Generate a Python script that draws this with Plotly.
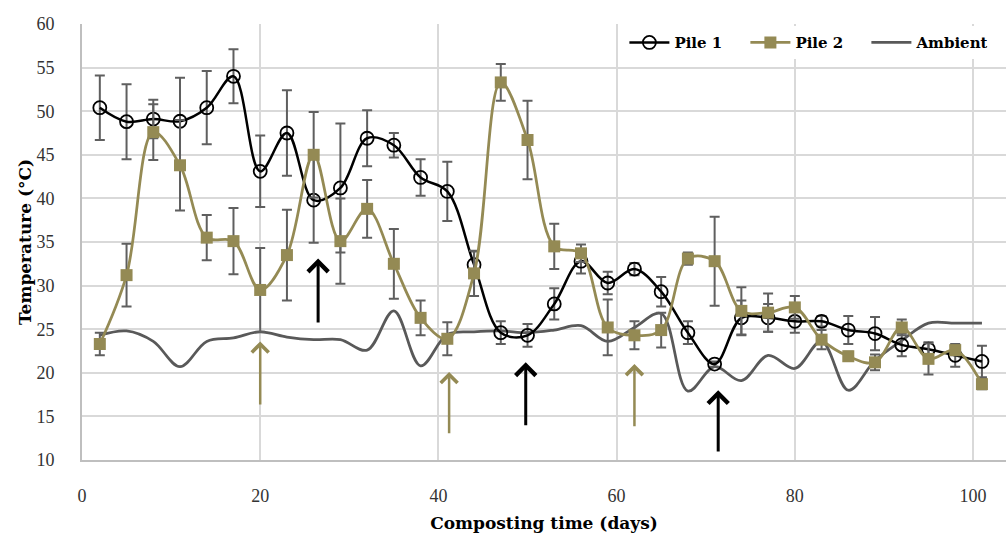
import plotly.graph_objects as go

# ---------------- data ----------------
days = [2, 5, 8, 11, 14, 17, 20, 23, 26, 29, 32, 35, 38, 41, 44, 47, 50,
        53, 56, 59, 62, 65, 68, 71, 74, 77, 80, 83, 86, 89, 92, 95, 98, 101]

pile1 = [50.4, 48.8, 49.1, 48.85, 50.4, 54.0, 43.1, 47.5, 39.8, 41.2, 46.9, 46.1,
         42.4, 40.8, 32.4, 24.6, 24.3, 27.9, 32.8, 30.3, 31.9, 29.3, 24.6, 21.0,
         26.3, 26.3, 25.9, 25.9, 24.9, 24.5, 23.2, 22.7, 22.0, 21.3]
pile1_err = [3.7, 4.3, 2.2, 5.0, 4.2, 3.1, 4.1, 4.9, 4.9, 7.4, 3.2, 1.4,
             2.1, 3.4, 1.5, 1.3, 1.3, 1.8, 1.4, 1.3, 0.7, 1.7, 1.3, 0.3,
             2.0, 1.6, 1.3, 0.6, 1.6, 1.9, 1.3, 0.8, 1.3, 1.8]

pile2 = [23.3, 31.2, 47.6, 43.8, 35.5, 35.1, 29.5, 33.5, 45.0, 35.1, 38.8, 32.5,
         26.3, 23.9, 31.4, 53.3, 46.7, 34.5, 33.7, 25.2, 24.3, 24.9, 33.1, 32.8,
         27.1, 26.9, 27.5, 23.8, 21.9, 21.2, 25.2, 21.6, 22.6, 18.7]
pile2_err = [1.3, 3.6, 3.2, 5.2, 2.6, 3.8, 4.8, 5.2, 4.9, 4.9, 3.3, 4.0,
             2.0, 1.9, 2.6, 2.1, 4.5, 2.6, 1.0, 3.2, 1.6, 2.0, 0.7, 5.1,
             2.7, 2.2, 1.3, 1.1, 0.5, 0.9, 0.9, 1.8, 0.6, 0.6]

ambient = [24.3, 24.8, 23.6, 20.7, 23.6, 24.0, 24.7, 24.1, 23.8, 23.8, 22.6, 27.1,
           20.8, 24.4, 24.7, 24.8, 24.6, 24.9, 25.4, 23.6, 25.2, 26.8, 17.9, 20.7,
           19.1, 22.0, 20.5, 23.6, 18.0, 21.4, 23.7, 25.7, 25.7, 25.7]

# arrows: (day, tail value, head value)
black_arrows = [(26.5, 25.6, 33.1), (49.8, 13.8, 21.2), (71.4, 10.8, 18.0)]
olive_arrows = [(20.0, 16.2, 23.6), (41.2, 12.9, 20.1), (62.0, 13.7, 21.0)]

x_ticks = [0, 20, 40, 60, 80, 100]
y_ticks = [10, 15, 20, 25, 30, 35, 40, 45, 50, 55, 60]

# ---------------- style ----------------
OLIVE = "#948A54"
GRAY = "#595959"
ERR = "#5f5f5f"
GRID = "#D9D9D9"
AXIS = "#BFBFBF"
TICKFONT = dict(family="Liberation Serif", size=18, color="#333333")
TITLEFONT = dict(family="DejaVu Serif", size=17, color="#000000")

fig = go.Figure()

fig.add_trace(go.Scatter(
    x=days, y=ambient, name="Ambient", mode="lines",
    line=dict(color=GRAY, width=2.75, shape="spline", smoothing=1.0),
))

fig.add_trace(go.Scatter(
    x=days, y=pile1, name="Pile 1", mode="lines+markers",
    line=dict(color="black", width=2.5, shape="spline", smoothing=1.0),
    marker=dict(symbol="circle", size=13, color="rgba(255,255,255,0)",
                line=dict(color="black", width=1.8)),
    error_y=dict(type="data", array=pile1_err, visible=True, color=ERR,
                 thickness=2, width=5),
))

fig.add_trace(go.Scatter(
    x=days, y=pile2, name="Pile 2", mode="lines+markers",
    line=dict(color=OLIVE, width=2.75, shape="spline", smoothing=1.0),
    marker=dict(symbol="square", size=12, color=OLIVE),
    error_y=dict(type="data", array=pile2_err, visible=True, color=ERR,
                 thickness=2, width=5),
))

annotations = []
for arrows, col, w in ((black_arrows, "black", 3), (olive_arrows, OLIVE, 2.5)):
    for d, tail, head in arrows:
        annotations.append(dict(
            x=d, y=head, ax=d, ay=tail, xref="x", yref="y", axref="x", ayref="y",
            text="", showarrow=True, arrowhead=4, arrowsize=1.3,
            arrowwidth=w, arrowcolor=col,
        ))

fig.update_layout(
    width=1006, height=536,
    margin=dict(l=82, r=0, t=24, b=76),
    plot_bgcolor="white", paper_bgcolor="white",
    showlegend=True,
    legend=dict(
        orientation="h", x=0.587, y=0.995, xanchor="left", yanchor="top",
        bgcolor="white",
        font=dict(family="DejaVu Serif", size=15, color="black", weight="bold"),
        traceorder="normal", entrywidth=66, entrywidthmode="pixels",
        itemwidth=40,
    ),
    annotations=annotations,
)

fig.update_xaxes(
    range=[0, 103.7], tickvals=x_ticks, ticktext=[str(v) for v in x_ticks],
    showgrid=True, gridcolor=GRID, gridwidth=1.5,
    showline=True, linecolor=AXIS, linewidth=2, automargin=False,
    zeroline=False, ticks="", tickfont=TICKFONT, ticklabelstandoff=18,
    title=dict(text="<b>Composting time (days)</b>", font=TITLEFONT, standoff=13),
)
fig.update_yaxes(
    range=[10, 60], tickvals=y_ticks, ticktext=[str(v) for v in y_ticks],
    showgrid=True, gridcolor=GRID, gridwidth=1.5,
    showline=True, linecolor=AXIS, linewidth=2, mirror=False, automargin=False,
    zeroline=False, ticks="", tickfont=TICKFONT, ticklabelstandoff=22,
    title=dict(text="<b>Temperature (°C)</b>", font=TITLEFONT, standoff=0),
)

# legend order: Pile 1, Pile 2, Ambient
fig.data[0].legendrank = 3
fig.data[1].legendrank = 1
fig.data[2].legendrank = 2

fig.write_html("out.html",
               config={"displayModeBar": False},
               post_script="document.body.style.margin='0px';")
